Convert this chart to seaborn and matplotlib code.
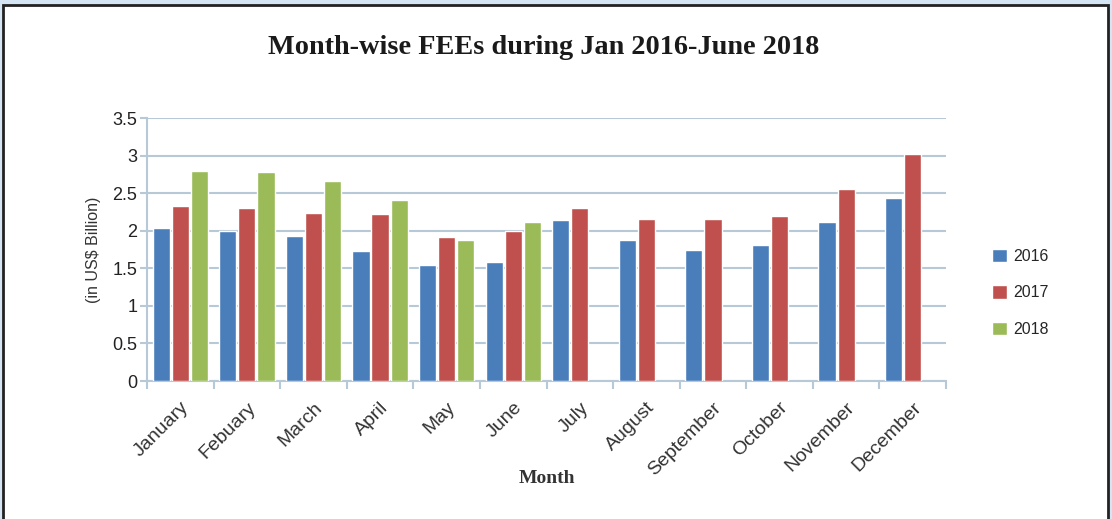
import pandas as pd
import numpy as np
import matplotlib.pyplot as plt
from matplotlib.patches import Rectangle
import seaborn as sns

months = ['January', 'Febuary', 'March', 'April', 'May', 'June', 'July',
          'August', 'September', 'October', 'November', 'December']
fees_2016 = [2.03, 2.00, 1.93, 1.73, 1.54, 1.59, 2.14, 1.88, 1.74, 1.81, 2.11, 2.44]
fees_2017 = [2.33, 2.30, 2.23, 2.22, 1.91, 2.00, 2.30, 2.15, 2.15, 2.19, 2.55, 3.02]
fees_2018 = [2.79, 2.78, 2.66, 2.41, 1.88, 2.12]
years = ['2016', '2017', '2018']

rows = []
for year, vals in zip(years, [fees_2016, fees_2017, fees_2018]):
    for m, v in zip(months, vals):
        rows.append({'Month': m, 'Year': year, 'Fees': v})
data = pd.DataFrame(rows)

palette = {'2016': '#4a7ebb', '2017': '#c0504d', '2018': '#9bbb59'}
grid_col = '#b7c8d6'

sns.set_theme(style='white')
fig = plt.figure(figsize=(11.12, 5.19), dpi=100)
fig.patch.set_facecolor('#d5e5f3')
fig.patches.append(Rectangle((3 / 1112, -0.05), 1105 / 1112, 1 - 5 / 519 + 0.05,
                             transform=fig.transFigure, facecolor='white',
                             edgecolor='#222222', linewidth=2, zorder=-1))

ax = fig.add_axes([147 / 1112, 1 - 381 / 519, (946 - 147) / 1112, (381 - 118) / 519])
ax.set_zorder(1)
ax.set_facecolor('none')
sns.barplot(data=data, x='Month', y='Fees', hue='Year', order=months,
            hue_order=years, palette=palette, width=0.86, gap=0.1,
            saturation=1, ax=ax, zorder=3)

ax.set_ylim(0, 3.5)
ax.set_yticks(np.arange(0, 3.6, 0.5))
ax.set_yticklabels(['0', '0.5', '1', '1.5', '2', '2.5', '3', '3.5'])
ax.set_xlim(-0.5, 11.5)
ax.yaxis.grid(True, color=grid_col, linewidth=1.5, zorder=0)
ax.set_axisbelow(True)
for s in ['top', 'right']:
    ax.spines[s].set_visible(False)
for s in ['left', 'bottom']:
    ax.spines[s].set_color(grid_col)
    ax.spines[s].set_linewidth(1.5)

ax.set_xticks(range(12))
ax.set_xticks(np.arange(-0.5, 12, 1), minor=True)
ax.tick_params(axis='x', which='minor', length=6, color=grid_col, width=1.5, bottom=True)
ax.tick_params(axis='x', which='major', length=0, pad=13)
ax.tick_params(axis='y', length=5, color=grid_col, width=1.5, left=True, pad=2)
ax.set_xticklabels(months, rotation=45, ha='right', rotation_mode='anchor',
                   family='Liberation Sans', fontsize=14, color='#333333')
for lab in ax.get_yticklabels():
    lab.set_family('Liberation Sans')
    lab.set_fontsize(13)
    lab.set_color('#222222')

ax.set_ylabel('(in US$ Billion)', family='Liberation Sans', fontsize=11.5,
              color='#333333', labelpad=8)
ax.set_xlabel('Month', family='Liberation Serif', fontweight='bold',
              fontsize=14, color='#333333', labelpad=-6)

fig.text(544 / 1112, 1 - 48 / 519, 'Month-wise FEEs during Jan 2016-June 2018',
         ha='center', va='center', family='Liberation Serif', fontweight='bold',
         fontsize=20.3, color='#1a1a1a')

ax.legend(loc='center left', bbox_to_anchor=(1.04, 0.335), frameon=False,
          handlelength=0.9, handleheight=0.9, handletextpad=0.4,
          labelspacing=1.35, prop={'family': 'Liberation Sans', 'size': 11.5})

fig.savefig('out.png', dpi=100)
